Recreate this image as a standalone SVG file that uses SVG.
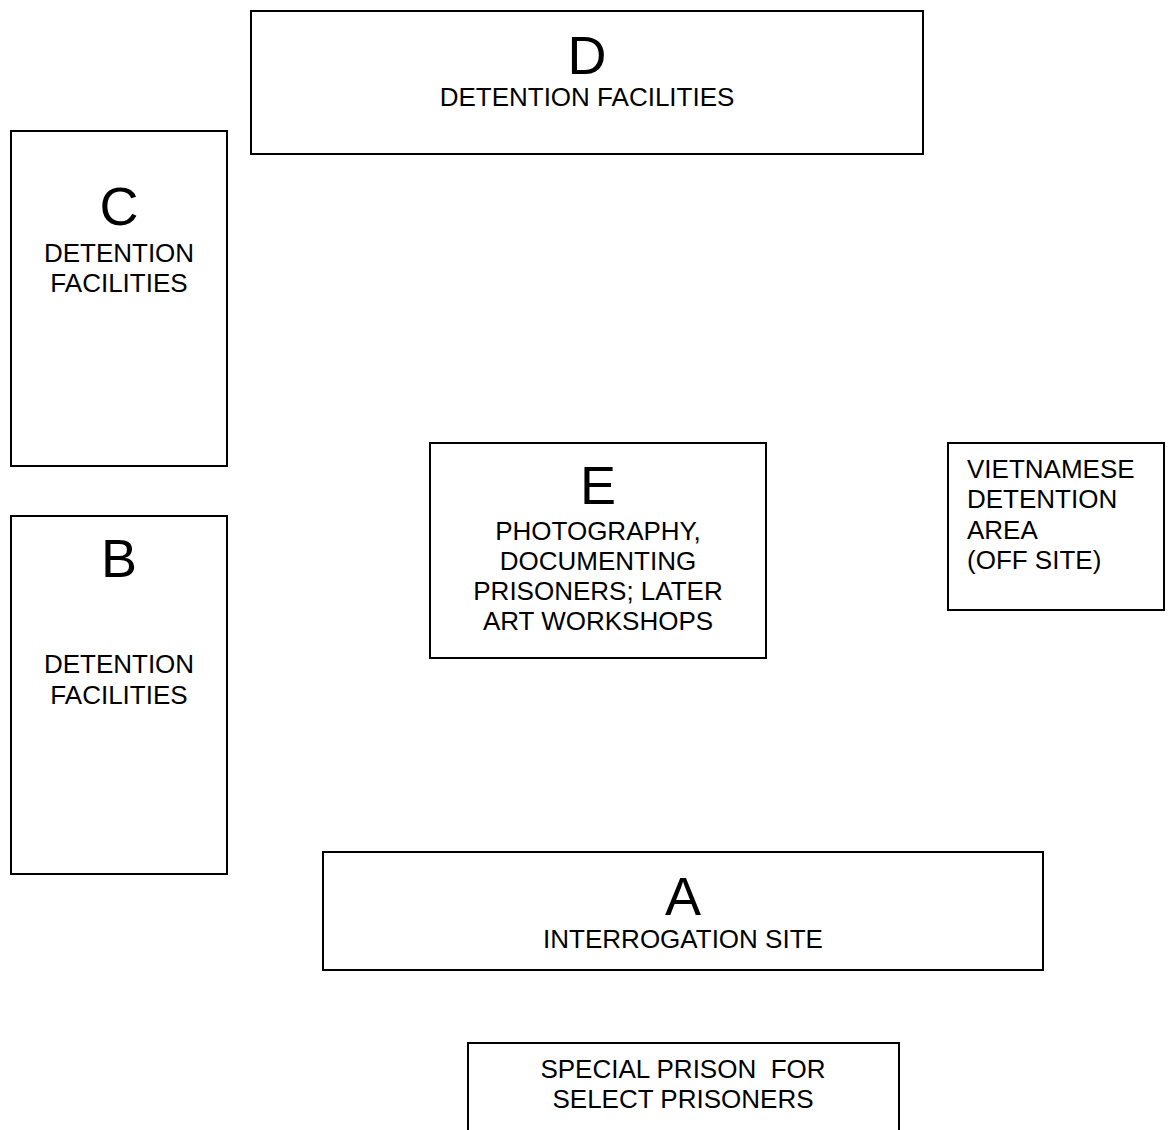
<svg xmlns="http://www.w3.org/2000/svg" width="1168" height="1130" viewBox="0 0 1168 1130">
<style>
.box{fill:#fff;stroke:#000;stroke-width:2}
.big{font-family:"Liberation Sans",Arial,sans-serif;font-size:54px;fill:#000;text-anchor:middle}
.t{font-family:"Liberation Sans",Arial,sans-serif;font-size:26px;fill:#000;text-anchor:middle}
.tl{font-family:"Liberation Sans",Arial,sans-serif;font-size:26px;fill:#000;text-anchor:start}
</style>
<rect width="1168" height="1130" fill="#fff"/>
<g id="D">
<rect class="box" x="251" y="11" width="672" height="143"/>
<text class="big" x="587" y="74">D</text>
<text class="t" x="587" y="106">DETENTION FACILITIES</text>
</g>
<g id="C">
<rect class="box" x="11" y="131" width="216" height="335"/>
<text class="big" x="119" y="225">C</text>
<text class="t" x="119" y="262">DETENTION</text>
<text class="t" x="119" y="292">FACILITIES</text>
</g>
<g id="B">
<rect class="box" x="11" y="516" width="216" height="358"/>
<text class="big" x="119" y="577">B</text>
<text class="t" x="119" y="673">DETENTION</text>
<text class="t" x="119" y="704">FACILITIES</text>
</g>
<g id="E">
<rect class="box" x="430" y="443" width="336" height="215"/>
<text class="big" x="598" y="504">E</text>
<text class="t" x="598" y="540">PHOTOGRAPHY,</text>
<text class="t" x="598" y="570">DOCUMENTING</text>
<text class="t" x="598" y="600">PRISONERS; LATER</text>
<text class="t" x="598" y="630">ART WORKSHOPS</text>
</g>
<g id="V">
<rect class="box" x="948" y="443" width="216" height="167"/>
<text class="tl" x="967" y="478">VIETNAMESE</text>
<text class="tl" x="967" y="508">DETENTION</text>
<text class="tl" x="967" y="539">AREA</text>
<text class="tl" x="967" y="569">(OFF SITE)</text>
</g>
<g id="A">
<rect class="box" x="323" y="852" width="720" height="118"/>
<text class="big" x="683" y="915">A</text>
<text class="t" x="683" y="948">INTERROGATION SITE</text>
</g>
<g id="S">
<rect class="box" x="468" y="1043" width="431" height="100"/>
<text class="t" x="683" y="1078" xml:space="preserve">SPECIAL PRISON  FOR</text>
<text class="t" x="683" y="1108">SELECT PRISONERS</text>
</g>
<g id="connectors"></g>
</svg>
